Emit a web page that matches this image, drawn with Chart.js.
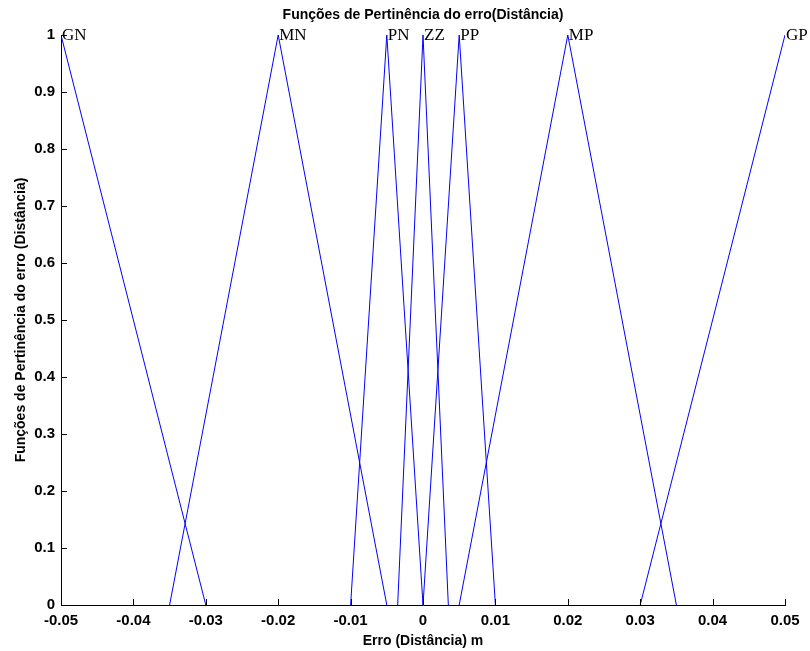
<!DOCTYPE html>
<html>
<head>
<meta charset="utf-8">
<script src="https://cdn.jsdelivr.net/npm/chart.js@4/dist/chart.umd.min.js"></script>
<style>
  html, body { margin: 0; padding: 0; background: #fff; }
  #wrap { width: 810px; height: 651px; }
</style>
</head>
<body>
<div id="wrap"><canvas id="fuzzyChart" width="810" height="651"></canvas></div>
<script>
// funcoes de pertinencia (vertices de cada conjunto)
const setNames = ['GN', 'MN', 'PN', 'ZZ', 'PP', 'MP', 'GP'];
const gnX = [-0.05, -0.03],            gnY = [1, 0];
const mnX = [-0.035, -0.02, -0.005],   mnY = [0, 1, 0];
const pnX = [-0.01, -0.005, 0],        pnY = [0, 1, 0];
const zzX = [-0.0035, 0, 0.0035],      zzY = [0, 1, 0];
const ppX = [0, 0.005, 0.01],          ppY = [0, 1, 0];
const mpX = [0.005, 0.02, 0.035],      mpY = [0, 1, 0];
const gpX = [0.03, 0.05],              gpY = [0, 1];
const peakX = [-0.05, -0.02, -0.005, 0, 0.005, 0.02, 0.05];

const xTicks = [-0.05, -0.04, -0.03, -0.02, -0.01, 0, 0.01, 0.02, 0.03, 0.04, 0.05];
const xTickLabels = ['-0.05', '-0.04', '-0.03', '-0.02', '-0.01', '0', '0.01', '0.02', '0.03', '0.04', '0.05'];
const yTicks = [0, 0.1, 0.2, 0.3, 0.4, 0.5, 0.6, 0.7, 0.8, 0.9, 1];
const yTickLabels = ['0', '0.1', '0.2', '0.3', '0.4', '0.5', '0.6', '0.7', '0.8', '0.9', '1'];

const titleText = 'Funções de Pertinência do erro(Distância)';
const xTitle = 'Erro (Distância) m';
const yTitle = 'Funções de Pertinência do erro (Distância)';

const allX = [gnX, mnX, pnX, zzX, ppX, mpX, gpX];
const allY = [gnY, mnY, pnY, zzY, ppY, mpY, gpY];

const datasets = allX.map((xs, i) => ({
  label: setNames[i],
  data: xs.map((x, j) => ({ x: x, y: allY[i][j] })),
  showLine: true,
  borderColor: 'rgb(0,0,255)',
  borderWidth: 1,
  pointRadius: 0,
  tension: 0,
  fill: false
}));

const tickFont = { family: 'Liberation Sans, Arial, sans-serif', size: 15, weight: 'bold' };

// ticks para dentro, textos e rotulos dos conjuntos
const extras = {
  id: 'extras',
  afterDraw(chart) {
    const ctx = chart.ctx;
    const xs = chart.scales.x, ys = chart.scales.y;
    const a = chart.chartArea;
    ctx.save();
    ctx.strokeStyle = '#000';
    ctx.lineWidth = 1;
    ctx.beginPath();
    xTicks.forEach(v => {
      const px = Math.round(xs.getPixelForValue(v)) + 0.5;
      ctx.moveTo(px, a.bottom);
      ctx.lineTo(px, a.bottom - 6);
    });
    yTicks.forEach(v => {
      const py = Math.round(ys.getPixelForValue(v)) + 0.5;
      ctx.moveTo(a.left, py);
      ctx.lineTo(a.left + 6, py);
    });
    ctx.stroke();

    ctx.fillStyle = '#000';
    ctx.font = 'bold 14px Liberation Sans, Arial, sans-serif';
    ctx.textAlign = 'center';
    ctx.textBaseline = 'middle';
    ctx.fillText(titleText, (a.left + a.right) / 2, 15);
    ctx.fillText(xTitle, (a.left + a.right) / 2, 641);
    ctx.save();
    ctx.translate(21, (a.top + a.bottom) / 2);
    ctx.rotate(-Math.PI / 2);
    ctx.fillText(yTitle, 0, 0);
    ctx.restore();

    ctx.font = '17px Liberation Serif, Times New Roman, serif';
    ctx.textAlign = 'left';
    peakX.forEach((v, i) => {
      ctx.fillText(setNames[i], xs.getPixelForValue(v) + 1, ys.getPixelForValue(1) + 1);
    });
    ctx.restore();
  }
};

new Chart(document.getElementById('fuzzyChart'), {
  type: 'scatter',
  data: { datasets: datasets },
  options: {
    responsive: false,
    animation: false,
    layout: { padding: { left: 0, right: 25, top: 35, bottom: 0 } },
    plugins: { legend: { display: false }, tooltip: { enabled: false } },
    scales: {
      x: {
        type: 'linear',
        min: -0.05,
        max: 0.05,
        afterBuildTicks: s => { s.ticks = xTicks.map(v => ({ value: v })); },
        afterFit: s => { s.height = 46; },
        ticks: {
          font: tickFont,
          color: '#000',
          padding: 7,
          maxRotation: 0,
          autoSkip: false,
          callback: v => xTickLabels[xTicks.indexOf(v)]
        },
        grid: { drawOnChartArea: false, drawTicks: false },
        border: { display: true, color: '#000', width: 1 }
      },
      y: {
        type: 'linear',
        min: 0,
        max: 1,
        afterBuildTicks: s => { s.ticks = yTicks.map(v => ({ value: v })); },
        afterFit: s => { s.width = 61; },
        ticks: {
          font: tickFont,
          color: '#000',
          padding: 6,
          autoSkip: false,
          callback: v => yTickLabels[yTicks.indexOf(v)]
        },
        grid: { drawOnChartArea: false, drawTicks: false },
        border: { display: true, color: '#000', width: 1 }
      }
    }
  },
  plugins: [extras]
});
</script>
</body>
</html>
